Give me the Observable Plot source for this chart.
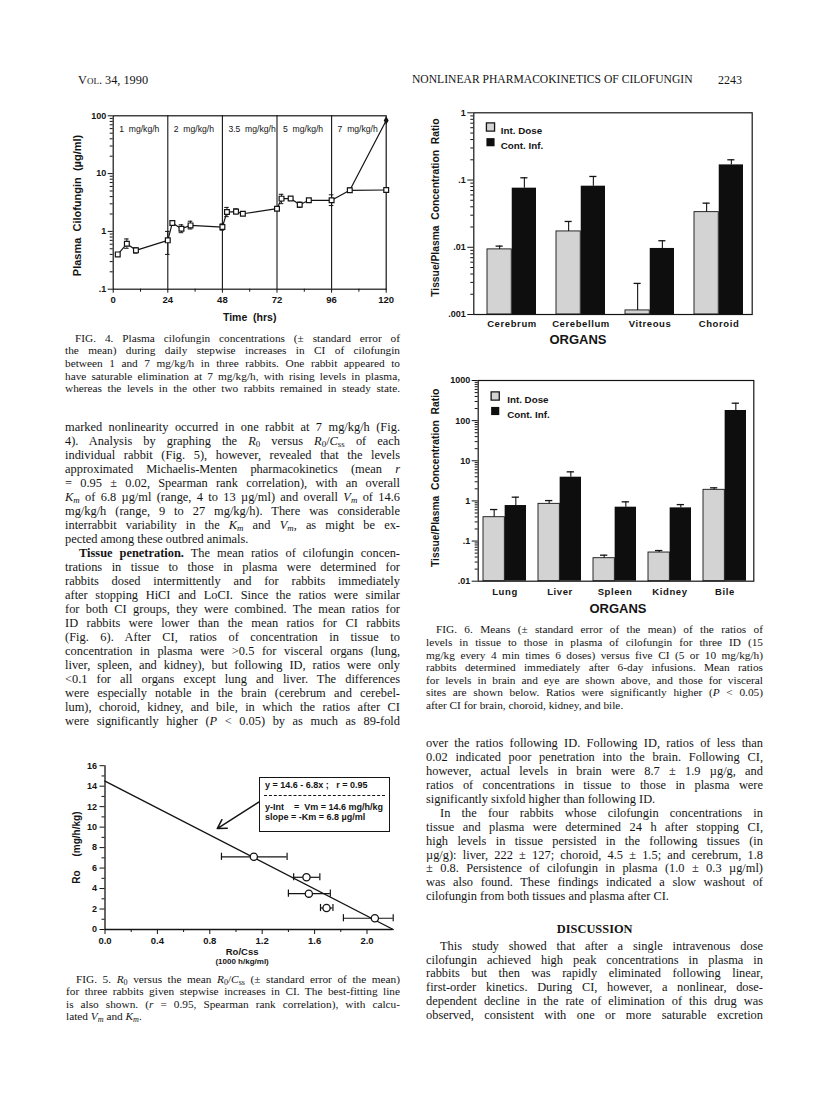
<!DOCTYPE html>
<html><head><meta charset="utf-8">
<script src="https://cdn.jsdelivr.net/npm/d3@7"></script>
<script src="https://cdn.jsdelivr.net/npm/@observablehq/plot@0.6"></script>
<style>
body{margin:0;background:#fff;}
#page{position:relative;width:816px;height:1096px;overflow:hidden;background:#fff;font-family:"Liberation Serif","Times New Roman",serif;color:#141414;}
.ln{position:absolute;white-space:nowrap;}
.ln span{display:inline-block;white-space:nowrap;}
sub{font-size:0.72em;vertical-align:-0.22em;line-height:0;}
svg text{white-space:pre;}
.organs g[aria-label="x-axis tick label"] text{letter-spacing:0.6px;}
#box{position:absolute;border:1.4px solid #141414;font-family:"Liberation Sans",Arial,sans-serif;font-weight:bold;font-size:9px;color:#141414;box-sizing:border-box;background:#fff;}
#box div{position:absolute;left:5px;white-space:pre;}
</style></head><body><div id="page"></div>
<script>
// ---------- FIG. 4 data ----------
const fig4Hours   = [2, 6, 10, 24, 26, 30, 34, 48, 50, 54, 57, 72, 74, 78, 82, 86, 96, 104, 120];
const fig4Plasma  = [0.40, 0.61, 0.47, 0.70, 1.40, 1.11, 1.27, 1.19, 2.16, 2.20, 2.02, 2.47, 3.69, 3.70, 2.90, 3.45, 3.45, 5.14, 5.20];
const fig4ErrLow  = [null, 0.51, 0.42, 0.40, null, 0.95, 1.10, 1.05, 1.80, 2.00, null, null, 3.02, null, 2.60, null, 2.80, 4.80, null];
const fig4ErrHigh = [null, 0.74, 0.52, 1.00, null, 1.30, 1.50, 1.35, 2.60, 2.45, null, null, 4.38, null, 3.20, null, 4.30, 5.60, null];
const fig4RiseHours  = [104, 120];
const fig4RisePlasma = [5.14, 83];
const fig4DoseStart  = [0, 24, 48, 72, 96];
const fig4DoseLabels = ["1  mg/kg/h", "2  mg/kg/h", "3.5  mg/kg/h", "5  mg/kg/h", "7  mg/kg/h"];
const fig4XTicks = [0, 24, 48, 72, 96, 120];
const fig4XMinor = [12, 36, 60, 84, 108];
const fig4YTicks = [0.1, 1, 10, 100];
const fig4YTickLabels = [".1", "1", "10", "100"];

// ---------- FIG. 6 data ----------
const legendLabels = ["Int. Dose", "Cont. Inf."];
const brainOrgans = ["Cerebrum", "Cerebellum", "Vitreous", "Choroid"];
const brainIntDose      = [0.0093, 0.0172, 0.00115, 0.0333];
const brainIntDoseUpper = [0.0104, 0.0242, 0.0029, 0.0453];
const brainContInf      = [0.0757, 0.081, 0.0096, 0.168];
const brainContInfUpper = [0.108, 0.113, 0.0125, 0.200];
const brainYTicks = [0.001, 0.01, 0.1, 1];
const brainYTickLabels = [".001", ".01", ".1", "1"];
const visceralOrgans = ["Lung", "Liver", "Spleen", "Kidney", "Bile"];
const visceralIntDose      = [0.393, 0.845, 0.0374, 0.0518, 1.89];
const visceralIntDoseUpper = [0.61, 1.02, 0.0445, 0.058, 2.12];
const visceralContInf      = [0.768, 3.9, 0.698, 0.671, 179];
const visceralContInfUpper = [1.24, 5.3, 0.948, 0.81, 272];
const visceralYTicks = [0.01, 0.1, 1, 10, 100, 1000];
const visceralYTickLabels = [".01", ".1", "1", "10", "100", "1000"];

// ---------- FIG. 5 data ----------
const fig5RoCss = [1.136, 1.538, 1.556, 1.691, 2.06];
const fig5Ro    = [7.1, 5.1, 3.5, 2.1, 1.1];
const fig5XLow  = [0.889, 1.44, 1.40, 1.645, 1.82];
const fig5XHigh = [1.39, 1.64, 1.72, 1.74, 2.2];
const fig5FitX = [0, 2.2];
const fig5FitY = [14.5, 0];
const fig5ArrowFrom = [1.18, 12.49];
const fig5ArrowTo   = [0.857, 9.86];
const fig5XTicks = [0, 0.4, 0.8, 1.2, 1.6, 2.0];
const fig5XTickLabels = ["0.0", "0.4", "0.8", "1.2", "1.6", "2.0"];
const fig5XMinor = [0.2, 0.6, 1.0, 1.4, 1.8];
const fig5YTicks = [0, 2, 4, 6, 8, 10, 12, 14, 16];
const fig5YMinor = [1, 3, 5, 7, 9, 11, 13, 15];
const fig5BoxLines = ["y = 14.6 - 6.8x ;   r = 0.95", "y-Int    =  Vm = 14.6 mg/h/kg", "slope = -Km = 6.8 \u00b5g/ml"];

// ---------- page text ----------
const headerLeft = "Vol. 34, 1990";
const headerRight = "NONLINEAR PHARMACOKINETICS OF CILOFUNGIN";
const pageNumber = "2243";
const fig4Caption = [
 "^FIG. 4. Plasma cilofungin concentrations (\u00b1 standard error of",
 "the mean) during daily stepwise increases in CI of cilofungin",
 "between 1 and 7 mg/kg/h in three rabbits. One rabbit appeared to",
 "have saturable elimination at 7 mg/kg/h, with rising levels in plasma,",
 "whereas the levels in the other two rabbits remained in steady state."
];
const leftBody = [
 "marked nonlinearity occurred in one rabbit at 7 mg/kg/h (Fig.",
 "4). Analysis by graphing the <i>R</i><sub>0</sub> versus <i>R</i><sub>0</sub>/<i>C</i><sub>ss</sub> of each",
 "individual rabbit (Fig. 5), however, revealed that the levels",
 "approximated Michaelis-Menten pharmacokinetics (mean <i>r</i>",
 "= 0.95 \u00b1 0.02, Spearman rank correlation), with an overall",
 "<i>K<sub>m</sub></i> of 6.8 \u00b5g/ml (range, 4 to 13 \u00b5g/ml) and overall <i>V<sub>m</sub></i> of 14.6",
 "mg/kg/h (range, 9 to 27 mg/kg/h). There was considerable",
 "interrabbit variability in the <i>K<sub>m</sub></i> and <i>V<sub>m</sub></i>, as might be ex-",
 "pected among these outbred animals.$",
 "^<b>Tissue penetration.</b> The mean ratios of cilofungin concen-",
 "trations in tissue to those in plasma were determined for",
 "rabbits dosed intermittently and for rabbits immediately",
 "after stopping HiCI and LoCI. Since the ratios were similar",
 "for both CI groups, they were combined. The mean ratios for",
 "ID rabbits were lower than the mean ratios for CI rabbits",
 "(Fig. 6). After CI, ratios of concentration in tissue to",
 "concentration in plasma were &gt;0.5 for visceral organs (lung,",
 "liver, spleen, and kidney), but following ID, ratios were only",
 "&lt;0.1 for all organs except lung and liver. The differences",
 "were especially notable in the brain (cerebrum and cerebel-",
 "lum), choroid, kidney, and bile, in which the ratios after CI",
 "were significantly higher (<i>P</i> &lt; 0.05) by as much as 89-fold"
];
const fig5Caption = [
 "^FIG. 5. <i>R</i><sub>0</sub> versus the mean <i>R</i><sub>0</sub>/<i>C</i><sub>ss</sub> (\u00b1 standard error of the mean)",
 "for three rabbits given stepwise increases in CI. The best-fitting line",
 "is also shown. (<i>r</i> = 0.95, Spearman rank correlation), with calcu-",
 "lated <i>V<sub>m</sub></i> and <i>K<sub>m</sub></i>.$"
];
const fig6Caption = [
 "^FIG. 6. Means (\u00b1 standard error of the mean) of the ratios of",
 "levels in tissue to those in plasma of cilofungin for three ID (15",
 "mg/kg every 4 min times 6 doses) versus five CI (5 or 10 mg/kg/h)",
 "rabbits determined immediately after 6-day infusions. Mean ratios",
 "for levels in brain and eye are shown above, and those for visceral",
 "sites are shown below. Ratios were significantly higher (<i>P</i> &lt; 0.05)",
 "after CI for brain, choroid, kidney, and bile.$"
];
const rightBody = [
 "over the ratios following ID. Following ID, ratios of less than",
 "0.02 indicated poor penetration into the brain. Following CI,",
 "however, actual levels in brain were 8.7 \u00b1 1.9 \u00b5g/g, and",
 "ratios of concentrations in tissue to those in plasma were",
 "significantly sixfold higher than following ID.$",
 "^In the four rabbits whose cilofungin concentrations in",
 "tissue and plasma were determined 24 h after stopping CI,",
 "high levels in tissue persisted in the following tissues (in",
 "\u00b5g/g): liver, 222 \u00b1 127; choroid, 4.5 \u00b1 1.5; and cerebrum, 1.8",
 "\u00b1 0.8. Persistence of cilofungin in plasma (1.0 \u00b1 0.3 \u00b5g/ml)",
 "was also found. These findings indicated a slow washout of",
 "cilofungin from both tissues and plasma after CI.$"
];
const discussionTitle = "DISCUSSION";
const discussionBody = [
 "^This study showed that after a single intravenous dose",
 "cilofungin achieved high peak concentrations in plasma in",
 "rabbits but then was rapidly eliminated following linear,",
 "first-order kinetics. During CI, however, a nonlinear, dose-",
 "dependent decline in the rate of elimination of this drug was",
 "observed, consistent with one or more saturable excretion"
];

const page = document.getElementById("page");
const sans = '"Liberation Sans", Arial, Helvetica, sans-serif';

function textBlock(lines, o) {
  lines.forEach((raw, i) => {
    let html = raw, indent = 0, justify = true;
    if (html.startsWith("^")) { html = html.slice(1); indent = o.indent; }
    if (html.endsWith("$")) { html = html.slice(0, -1); justify = false; }
    const y = o.y0 + i * o.dy;
    const div = document.createElement("div");
    div.className = "ln";
    div.style.left = (o.x + indent) + "px";
    div.style.top = (y - o.dy / 2 - 1) + "px";
    div.style.lineHeight = o.dy + "px";
    div.style.fontSize = o.size + "px";
    const span = document.createElement("span");
    span.innerHTML = html;
    div.appendChild(span);
    page.appendChild(div);
    if (justify) {
      const target = o.width - indent;
      const w = span.getBoundingClientRect().width;
      const n = (span.textContent.match(/ /g) || []).length;
      if (n > 0) span.style.wordSpacing = ((target - w) / n) + "px";
    }
  });
}
function simpleText(txt, o) {
  const d = document.createElement("div");
  d.className = "ln";
  d.style.left = o.x + "px"; d.style.top = o.y + "px";
  d.style.fontSize = o.size + "px";
  if (o.style) Object.assign(d.style, o.style);
  d.textContent = txt;
  page.appendChild(d);
  return d;
}
function place(svg, left, top) {
  svg.style.position = "absolute";
  svg.style.left = left + "px";
  svg.style.top = top + "px";
  page.appendChild(svg);
}
function logMinor(lo, hi) {
  const out = [];
  for (let e = Math.round(Math.log10(lo)); e < Math.round(Math.log10(hi)); e++)
    for (let k = 2; k <= 9; k++) out.push(+(k * Math.pow(10, e)).toPrecision(3));
  return out;
}
const plotStyle = {fontFamily: sans, fontSize: "9px", fontWeight: "bold", color: "#141414", background: "transparent", overflow: "visible"};

// ---------- header ----------
simpleText(headerLeft, {x: 78, y: 73, size: 12.3, style: {fontVariant: "small-caps"}});
simpleText(headerRight, {x: 412, y: 73, size: 11.6});
simpleText(pageNumber, {x: 718, y: 73, size: 12});

// ---------- FIG. 4 ----------
{
  const f4 = fig4Hours.map((h, i) => ({h, c: fig4Plasma[i], lo: fig4ErrLow[i], hi: fig4ErrHigh[i]}));
  const f4Err = f4.filter(d => d.lo != null);
  const f4Rise = fig4RiseHours.map((h, i) => ({h, c: fig4RisePlasma[i]}));
  const doses = fig4DoseLabels.map((label, i) => ({label, start: fig4DoseStart[i]}));
  const svg = Plot.plot({
    width: 340, height: 235, marginLeft: 52.7, marginRight: 14.3, marginTop: 15.3, marginBottom: 46.3,
    style: plotStyle,
    x: {domain: [0, 120], axis: null, label: null},
    y: {type: "log", domain: [0.1, 100], axis: null, label: null},
    marks: [
      Plot.axisY({ticks: logMinor(0.1, 100), tickSize: 3, tickFormat: () => "", label: null}),
      Plot.axisY({ticks: fig4YTicks, tickSize: 5, tickPadding: 2, fontSize: 9, tickFormat: d => fig4YTickLabels[fig4YTicks.indexOf(d)], label: null}),
      Plot.axisX({ticks: fig4XMinor, tickSize: 3, tickFormat: () => "", label: null}),
      Plot.axisX({ticks: fig4XTicks, tickSize: 4, tickPadding: 3, fontSize: 9.5, tickFormat: d => String(d), label: null}),
      Plot.frame({stroke: "#141414", strokeWidth: 1.2}),
      Plot.ruleX(fig4DoseStart.slice(1), {stroke: "#141414", strokeWidth: 1.1}),
      Plot.text(doses, {x: "start", text: "label", frameAnchor: "top", textAnchor: "start", dx: 6, dy: 10.5, fontWeight: "normal", fontSize: 8.6}),
      Plot.ruleX(f4Err, {x: "h", y1: "lo", y2: "hi", strokeWidth: 1}),
      Plot.ruleY(f4Err, {y: "lo", x1: d => d.h - 1, x2: d => d.h + 1, strokeWidth: 1}),
      Plot.ruleY(f4Err, {y: "hi", x1: d => d.h - 1, x2: d => d.h + 1, strokeWidth: 1}),
      Plot.line(f4, {x: "h", y: "c", strokeWidth: 1.2}),
      Plot.line(f4Rise, {x: "h", y: "c", strokeWidth: 1.2}),
      Plot.dot(f4, {x: "h", y: "c", symbol: "square", r: 2.7, fill: "white", stroke: "#141414", strokeWidth: 1.2}),
      Plot.dot(f4Rise.slice(-1), {x: "h", y: "c", symbol: "diamond", r: 2.6, fill: "#141414"}),
      Plot.text(["Time  (hrs)"], {frameAnchor: "bottom", dy: 32, fontSize: 10.5}),
      Plot.text(["Plasma  Cilofungin  (\u00b5g/ml)"], {frameAnchor: "left", textAnchor: "middle", rotate: -90, dx: -36, dy: 3, fontSize: 11})
    ]
  });
  place(svg, 60, 100);
}

// ---------- FIG. 6 ----------
function organChart(o) {
  const data = o.organs.map((organ, i) => ({organ, iv: o.intV[i], iu: o.intU[i], cv: o.contV[i], cu: o.contU[i]}));
  const innerW = o.width - o.ml - o.mr;
  const step = innerW / (o.organs.length - o.padIn + 2 * o.padOut);
  const bw = step * (1 - o.padIn), half = bw / 2, q = bw / 4, cap = 3.8;
  const base = o.yDomain[0];
  return Plot.plot({
    width: o.width, height: o.height, marginLeft: o.ml, marginRight: o.mr, marginTop: o.mt, marginBottom: o.mb,
    className: "organs",
    style: plotStyle,
    x: {type: "band", domain: o.organs, paddingInner: o.padIn, paddingOuter: o.padOut, align: o.align, axis: null, label: null},
    y: {type: "log", domain: o.yDomain, axis: null, label: null},
    marks: [
      Plot.barY(data, {x: "organ", y1: () => base, y2: "iv", insetRight: half, fill: "#d3d3d3", stroke: "#141414", strokeWidth: 0.9}),
      Plot.barY(data, {x: "organ", y1: () => base, y2: "cv", insetLeft: half, fill: "#0e0e0e"}),
      Plot.ruleX(data, {x: "organ", y1: "iv", y2: "iu", dx: -q, strokeWidth: 1.1}),
      Plot.tickY(data, {x: "organ", y: "iu", insetLeft: q - cap, insetRight: 3 * q - cap, strokeWidth: 1.3}),
      Plot.ruleX(data, {x: "organ", y1: "cv", y2: "cu", dx: q, strokeWidth: 1.1}),
      Plot.tickY(data, {x: "organ", y: "cu", insetLeft: 3 * q - cap, insetRight: q - cap, strokeWidth: 1.3}),
      Plot.axisY({ticks: logMinor(o.yDomain[0], o.yDomain[1]), tickSize: 3, tickFormat: () => "", label: null}),
      Plot.axisY({ticks: o.yTicks, tickSize: 6, tickPadding: 2, fontSize: 9, tickFormat: d => o.yTickLabels[o.yTicks.indexOf(d)], label: null}),
      Plot.axisX({tickSize: 0, tickPadding: o.xPad, fontSize: 9.5, label: null}),
      Plot.frame({stroke: "#141414", strokeWidth: 1.2}),
      Plot.dot([legendLabels[0]], {frameAnchor: "top-left", dx: o.lgDx, dy: o.lgDy0, symbol: "square", r: 4.6, fill: "#d3d3d3", stroke: "#141414", strokeWidth: 1.3}),
      Plot.dot([legendLabels[1]], {frameAnchor: "top-left", dx: o.lgDx, dy: o.lgDy1, symbol: "square", r: 4.6, fill: "#0e0e0e"}),
      Plot.text([legendLabels[0]], {frameAnchor: "top-left", dx: o.lgTx, dy: o.lgDy0, textAnchor: "start", fontSize: 9.8}),
      Plot.text([legendLabels[1]], {frameAnchor: "top-left", dx: o.lgTx, dy: o.lgDy1, textAnchor: "start", fontSize: 9.8}),
      Plot.text(["ORGANS"], {frameAnchor: "bottom", dy: o.orgDy, dx: o.orgDx, fontSize: 13}),
      Plot.text(["Tissue/Plasma  Concentration  Ratio"], {frameAnchor: "left", textAnchor: "middle", rotate: -90, dx: o.yLabDx, dy: o.yLabDy, fontSize: 10.3})
    ]
  });
}
place(organChart({
  organs: brainOrgans, intV: brainIntDose, intU: brainIntDoseUpper, contV: brainContInf, contU: brainContInfUpper,
  yDomain: [0.001, 1], yTicks: brainYTicks, yTickLabels: brainYTickLabels,
  width: 340, height: 265, ml: 53.3, mr: 8.3, mt: 17.3, mb: 46,
  padIn: 0.285, padOut: 0.154, align: 0.6, xPad: 6,
  lgDx: 16.7, lgDy0: 14.2, lgDy1: 29.4, lgTx: 27, orgDy: 29, orgDx: -35, yLabDx: -38, yLabDy: -6
}), 420, 95);
place(organChart({
  organs: visceralOrgans, intV: visceralIntDose, intU: visceralIntDoseUpper, contV: visceralContInf, contU: visceralContInfUpper,
  yDomain: [0.01, 1000], yTicks: visceralYTicks, yTickLabels: visceralYTickLabels,
  width: 340, height: 262, ml: 57.7, mr: 6.7, mt: 15, mb: 46.3,
  padIn: 0.217, padOut: 0.1, align: 0.41, xPad: 7,
  lgDx: 17, lgDy0: 15.5, lgDy1: 30.5, lgTx: 29, orgDy: 32, orgDx: 2, yLabDx: -42.7, yLabDy: -3
}), 420, 365);

// ---------- FIG. 5 ----------
{
  const f5 = fig5RoCss.map((x, i) => ({x, y: fig5Ro[i], lo: fig5XLow[i], hi: fig5XHigh[i]}));
  const fit = fig5FitX.map((x, i) => ({x, y: fig5FitY[i]}));
  const arrow = [{x1: fig5ArrowFrom[0], y1: fig5ArrowFrom[1], x2: fig5ArrowTo[0], y2: fig5ArrowTo[1]}];
  const svg = Plot.plot({
    width: 350, height: 222, marginLeft: 54.5, marginRight: 7.3, marginTop: 10.2, marginBottom: 48,
    style: plotStyle,
    x: {domain: [0, 2.2], axis: null, label: null},
    y: {domain: [0, 16], axis: null, label: null},
    marks: [
      Plot.axisY({ticks: fig5YMinor, tickSize: 3, tickFormat: () => "", label: null}),
      Plot.axisY({ticks: fig5YTicks, tickSize: 5, tickPadding: 3, fontSize: 9, tickFormat: d => String(d), label: null}),
      Plot.axisX({ticks: fig5XMinor, tickSize: 3, tickFormat: () => "", label: null}),
      Plot.axisX({ticks: fig5XTicks, tickSize: 5, tickPadding: 3, fontSize: 9.5, tickFormat: d => fig5XTickLabels[fig5XTicks.indexOf(d)], label: null}),
      Plot.ruleX([0], {strokeWidth: 1.3}),
      Plot.ruleY([0], {strokeWidth: 1.3}),
      Plot.line(fit, {x: "x", y: "y", strokeWidth: 1.4}),
      Plot.ruleY(f5, {y: "y", x1: "lo", x2: "hi", strokeWidth: 1.2}),
      Plot.ruleX(f5, {x: "lo", y1: d => d.y - 0.35, y2: d => d.y + 0.35, strokeWidth: 1.2}),
      Plot.ruleX(f5, {x: "hi", y1: d => d.y - 0.35, y2: d => d.y + 0.35, strokeWidth: 1.2}),
      Plot.dot(f5, {x: "x", y: "y", r: 3.6, fill: "white", stroke: "#141414", strokeWidth: 1.3}),
      Plot.arrow(arrow, {x1: "x1", y1: "y1", x2: "x2", y2: "y2", strokeWidth: 1.5, headLength: 10}),
      Plot.text(["Ro/Css"], {frameAnchor: "bottom", dy: 25, dx: -7, fontSize: 9.5}),
      Plot.text(["(1000 h/kg/ml)"], {frameAnchor: "bottom", dy: 34.5, dx: -7, fontSize: 8}),
      Plot.text(["Ro     (mg/h/kg)"], {frameAnchor: "left", textAnchor: "middle", rotate: -90, dx: -28, fontSize: 10})
    ]
  });
  place(svg, 50, 755);
  const box = document.createElement("div");
  box.id = "box";
  Object.assign(box.style, {left: "259px", top: "777px", width: "131px", height: "55px"});
  const tops = [2, 23.5, 34];
  fig5BoxLines.forEach((t, i) => {
    const d = document.createElement("div");
    d.textContent = t;
    d.style.top = tops[i] + "px";
    box.appendChild(d);
  });
  const dash = document.createElement("div");
  Object.assign(dash.style, {left: "4px", right: "4px", top: "16.5px", borderTop: "1.3px dashed #141414"});
  box.appendChild(dash);
  page.appendChild(box);
}

// ---------- text blocks ----------
textBlock(fig4Caption, {x: 65, width: 335, y0: 339, dy: 12.6, size: 11.3, indent: 10});
textBlock(leftBody, {x: 65, width: 335, y0: 429.3, dy: 13.97, size: 12.4, indent: 14});
textBlock(fig5Caption, {x: 66, width: 334, y0: 980, dy: 12.4, size: 11.3, indent: 10});
textBlock(fig6Caption, {x: 426, width: 337, y0: 630.7, dy: 12.55, size: 11.3, indent: 10});
textBlock(rightBody, {x: 426, width: 337, y0: 745, dy: 13.94, size: 12.4, indent: 14});
const disc = simpleText(discussionTitle, {x: 0, y: 922, size: 12.4, style: {fontWeight: "bold"}});
disc.style.left = (594.7 - disc.getBoundingClientRect().width / 2) + "px";
textBlock(discussionBody, {x: 426, width: 337, y0: 947.7, dy: 13.8, size: 12.4, indent: 14});
</script></body></html>
